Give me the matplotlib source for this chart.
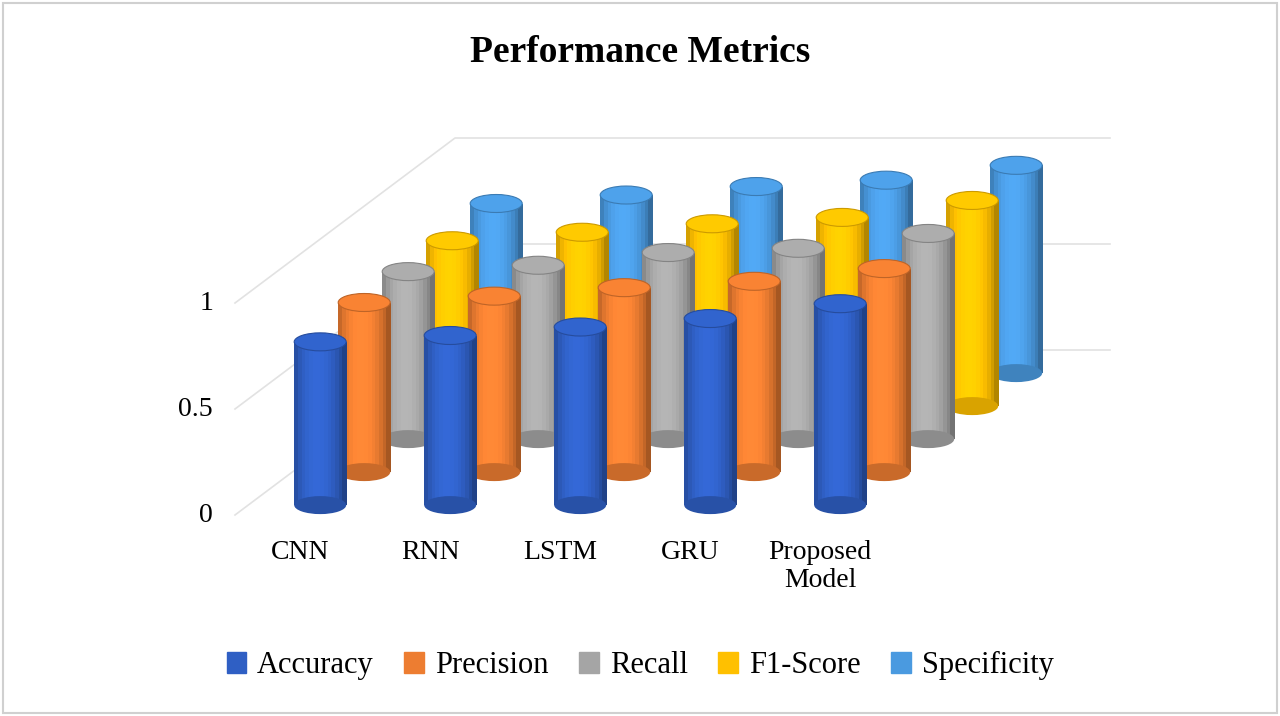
import matplotlib.pyplot as plt
from matplotlib.patches import Ellipse, Rectangle
import matplotlib.colors as mcolors
import numpy as np

plt.rcParams['font.family'] = ['Liberation Serif', 'DejaVu Serif']

models = ["CNN", "RNN", "LSTM", "GRU", "Proposed\nModel"]
series = ["Accuracy", "Precision", "Recall", "F1-Score", "Specificity"]
accuracy = [0.77, 0.80, 0.84, 0.88, 0.95]
precision = [0.80, 0.83, 0.87, 0.90, 0.96]
recall = [0.79, 0.82, 0.88, 0.90, 0.97]
f1_score = [0.78, 0.82, 0.86, 0.89, 0.97]
specificity = [0.80, 0.84, 0.88, 0.91, 0.98]
yticks = [0, 0.5, 1]
values = [accuracy, precision, recall, f1_score, specificity]
colors = ["#2F5FC4", "#ED7D31", "#A5A5A5", "#FFC000", "#4A9AE0"]

# pseudo 3D layout (pixel units)
x0, y0 = 235, 515        # front-left origin of value 0
scale = 212              # pixels per unit
ddx, ddy = 44, -33       # offset per series depth
cat_step = 130
w, eh = 52, 18

fig = plt.figure(figsize=(12.8, 7.16), dpi=100)
ax = fig.add_axes([0, 0, 1, 1])
ax.set_xlim(0, 1280)
ax.set_ylim(716, 0)
ax.axis("off")
ax.add_patch(Rectangle((3, 3), 1274, 710, fill=False, ec="#d0d0d0", lw=1.5))

def proj(cat, depth, v):
    return (x0 + 72 + cat * cat_step + depth * ddx,
            y0 + depth * ddy - v * scale)

# grid
wall = 5.0
for v in yticks:
    xa, ya = x0, y0 - v * scale
    xb, yb = x0 + wall * ddx, ya + wall * ddy
    ax.plot([xa, xb, 1110], [ya, yb, yb], color="#e2e2e2", lw=1.2, zorder=0)
    ax.text(xa - 22, ya, f"{v:g}", ha="right", va="center", fontsize=20)

def cylinder(cx, yb, yt, color):
    base = np.array(mcolors.to_rgb(color))
    n = 14
    for k in range(n):
        t = (k + 0.5) / n
        shade = 0.72 + 0.45 * np.sin(np.pi * t) ** 0.6 - 0.15 * t
        c = np.clip(base * shade, 0, 1)
        ax.add_patch(Rectangle((cx - w / 2 + k * w / n, yt), w / n + 0.6, yb - yt,
                               color=c, lw=0))
    ax.add_patch(Ellipse((cx, yb), w, eh, color=np.clip(base * 0.85, 0, 1), lw=0))
    ax.add_patch(Ellipse((cx, yt), w, eh, color=np.clip(base * 1.05, 0, 1),
                         ec=np.clip(base * 0.8, 0, 1), lw=0.8))

for i in range(len(series) - 1, -1, -1):
    for j in range(len(models)):
        cx, yb = proj(j, i + 0.3, 0)
        _, yt = proj(j, i + 0.3, values[i][j])
        cylinder(cx, yb, yt, colors[i])

for j, m in enumerate(models):
    cx, _ = proj(j, 0.3, 0)
    ax.text(cx - 20, 540, m, ha="center", va="top", fontsize=20, linespacing=1.15)

ax.text(640, 52, "Performance Metrics", ha="center", va="center",
        fontsize=27, fontweight="bold")

handles = [Rectangle((0, 0), 1, 1, color=c) for c in colors]
fig.legend(handles, series, loc="center", bbox_to_anchor=(0.5, 0.07), ncol=5,
           frameon=False, fontsize=22, handlelength=0.65, handleheight=0.65,
           columnspacing=1.0, handletextpad=0.35)

fig.savefig("out.png", dpi=100)
